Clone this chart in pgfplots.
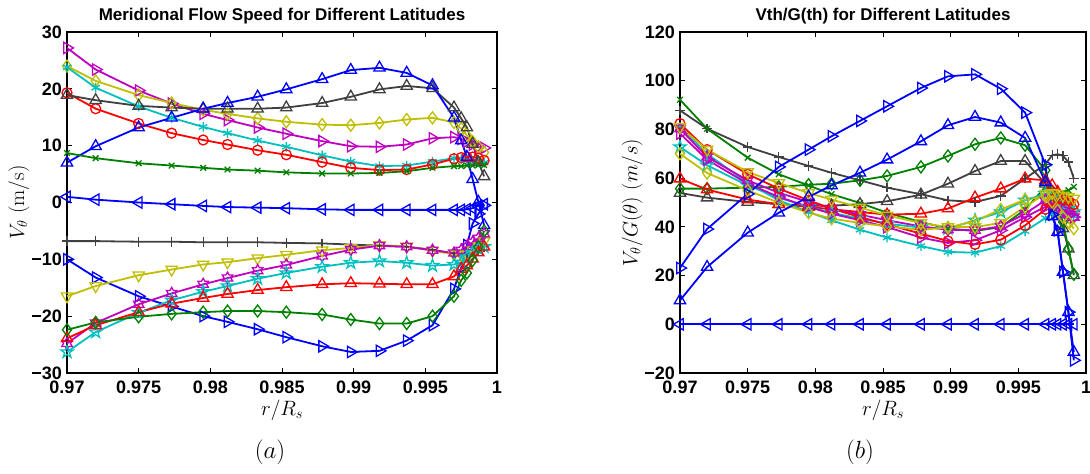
\documentclass[border=0pt]{standalone}
\usepackage{pgfplots}
\pgfplotsset{compat=1.18}
\usepackage{pgfplotstable}
\usepackage{fontspec}
\newfontfamily\arial{Liberation Sans}

\definecolor{mblue}{rgb}{0,0,1}
\definecolor{mgreen}{rgb}{0,0.5,0}
\definecolor{mred}{rgb}{1,0,0}
\definecolor{mcyan}{rgb}{0,0.75,0.75}
\definecolor{mmag}{rgb}{0.75,0,0.75}
\definecolor{myel}{rgb}{0.75,0.75,0}
\definecolor{mgray}{rgb}{0.25,0.25,0.25}

\pgfdeclareplotmark{pentagram}{%
 \pgfpathmoveto{\pgfpointpolar{90}{\pgfplotmarksize}}%
 \pgfpathlineto{\pgfpointpolar{126}{0.382\pgfplotmarksize}}%
 \pgfpathlineto{\pgfpointpolar{162}{\pgfplotmarksize}}%
 \pgfpathlineto{\pgfpointpolar{198}{0.382\pgfplotmarksize}}%
 \pgfpathlineto{\pgfpointpolar{234}{\pgfplotmarksize}}%
 \pgfpathlineto{\pgfpointpolar{270}{0.382\pgfplotmarksize}}%
 \pgfpathlineto{\pgfpointpolar{306}{\pgfplotmarksize}}%
 \pgfpathlineto{\pgfpointpolar{342}{0.382\pgfplotmarksize}}%
 \pgfpathlineto{\pgfpointpolar{18}{\pgfplotmarksize}}%
 \pgfpathlineto{\pgfpointpolar{54}{0.382\pgfplotmarksize}}%
 \pgfpathclose\pgfusepathqstroke}
\pgfdeclareplotmark{hexagram}{%
 \pgfpathmoveto{\pgfpointpolar{90}{\pgfplotmarksize}}%
 \pgfpathlineto{\pgfpointpolar{120}{0.577\pgfplotmarksize}}%
 \pgfpathlineto{\pgfpointpolar{150}{\pgfplotmarksize}}%
 \pgfpathlineto{\pgfpointpolar{180}{0.577\pgfplotmarksize}}%
 \pgfpathlineto{\pgfpointpolar{210}{\pgfplotmarksize}}%
 \pgfpathlineto{\pgfpointpolar{240}{0.577\pgfplotmarksize}}%
 \pgfpathlineto{\pgfpointpolar{270}{\pgfplotmarksize}}%
 \pgfpathlineto{\pgfpointpolar{300}{0.577\pgfplotmarksize}}%
 \pgfpathlineto{\pgfpointpolar{330}{\pgfplotmarksize}}%
 \pgfpathlineto{\pgfpointpolar{0}{0.577\pgfplotmarksize}}%
 \pgfpathlineto{\pgfpointpolar{30}{\pgfplotmarksize}}%
 \pgfpathlineto{\pgfpointpolar{60}{0.577\pgfplotmarksize}}%
 \pgfpathclose\pgfusepathqstroke}

% each row = one series; transposed below
\pgfplotstableread{
name c1 c2 c3 c4 c5 c6 c7 c8 c9 c10 c11 c12 c13 c14 c15 c16 c17 c18 c19
x 0.9700 0.9720 0.9750 0.9773 0.9795 0.9812 0.9833 0.9853 0.9878 0.9898 0.9918 0.9937 0.9955 0.9970 0.9975 0.9979 0.9983 0.9987 0.9991
a1 27.2 23.4 19.7 17.4 15.6 14.5 13.2 12.1 10.8 9.9 9.8 10.2 11.3 11.5 11.2 10.7 10.2 9.8 9.6
a2 24.0 21.4 18.9 17.5 16.3 15.6 14.8 14.2 13.7 13.6 14.0 14.6 14.9 14.1 13.0 11.8 10.7 9.8 8.8
a3 23.8 20.2 16.9 14.9 13.3 12.2 10.9 9.8 8.3 7.2 6.4 6.5 7.2 7.8 7.7 7.5 7.3 7.1 7.0
a4 19.3 16.5 13.9 12.2 11.0 10.2 9.2 8.4 7.1 6.1 5.7 5.8 6.7 7.7 7.9 8.0 8.0 7.8 7.4
a5 18.9 18.0 17.0 16.7 16.5 16.5 16.5 16.7 17.5 18.6 19.9 20.5 20.1 16.7 14.8 13.2 10.3 7.1 4.6
a6 7.0 9.9 13.2 14.9 16.5 17.5 18.6 19.9 21.7 23.3 23.7 22.8 20.6 14.9 10.9 8.0 4.1 0.1 -4.0
a7 8.7 7.8 6.9 6.5 6.1 5.8 5.6 5.3 5.1 5.1 5.2 5.5 6.1 6.4 6.4 6.5 6.5 6.6 6.6
a8 1.0 0.5 0.0 -0.3 -0.6 -0.8 -0.9 -1.0 -1.2 -1.3 -1.3 -1.3 -1.3 -1.3 -1.3 -1.2 -1.0 -0.6 -0.3
a9 -6.8 -6.8 -6.9 -6.9 -7.0 -7.0 -7.0 -7.1 -7.2 -7.4 -7.6 -7.8 -8.3 -9.0 -9.0 -9.0 -8.8 -8.4 -7.8
a10 -10.0 -13.2 -16.5 -18.3 -20.0 -21.0 -22.3 -23.7 -25.3 -26.3 -26.1 -24.3 -21.6 -15.2 -11.5 -7.5 -3.7 -2.0 -0.5
a11 -16.5 -14.7 -12.8 -11.8 -10.9 -10.5 -9.8 -9.2 -8.4 -8.0 -7.5 -7.7 -8.5 -9.1 -9.2 -9.0 -8.4 -7.7 -6.8
a12 -24.8 -21.2 -17.9 -16.0 -14.4 -13.3 -12.0 -11.0 -9.4 -8.3 -7.6 -7.8 -8.4 -8.9 -8.4 -7.8 -7.0 -6.3 -5.5
a13 -26.3 -22.8 -19.4 -17.2 -15.7 -14.7 -13.4 -12.4 -11.3 -10.6 -10.3 -10.6 -11.1 -10.9 -10.5 -9.6 -8.8 -8.2 -7.8
a14 -23.9 -21.6 -19.3 -17.8 -16.8 -16.1 -15.4 -14.9 -14.4 -14.2 -14.3 -14.4 -14.4 -13.0 -11.7 -11.1 -9.9 -8.8 -7.8
a15 -22.4 -21.1 -20.1 -19.6 -19.3 -19.1 -19.1 -19.3 -19.7 -20.6 -21.3 -21.3 -20.0 -16.5 -13.7 -12.4 -10.2 -7.8 -5.0
}\rawA
\pgfplotstabletranspose[colnames from=name]\tA\rawA

\pgfplotstableread{
name c1 c2 c3 c4 c5 c6 c7 c8 c9 c10 c11 c12 c13 c14 c15 c16 c17 c18 c19
x 0.9700 0.9720 0.9750 0.9773 0.9795 0.9812 0.9833 0.9853 0.9878 0.9898 0.9918 0.9937 0.9955 0.9970 0.9975 0.9979 0.9983 0.9987 0.9991
b1 23.1 39.1 53.5 64.6 71.7 77.2 83.5 89.5 97.0 101.8 102.6 96.7 86.9 65.5 45.0 38.6 21.5 5.0 -14.8
b2 9.8 23.5 37.6 45.8 52.3 57.0 62.2 67.6 75.1 81.7 85.1 82.8 76.5 58.4 44.3 37.9 21.5 5.0 -11.4
b3 55.7 55.7 56.1 56.4 57.3 57.7 59.1 60.9 64.6 69.1 73.9 76.5 73.5 63.2 53.6 48.2 42.0 31.0 20.5
b4 53.9 52.0 50.2 49.3 48.7 48.7 49.3 50.5 53.2 57.7 62.9 67.0 67.0 57.7 52.3 45.4 39.3 31.0 20.1
b5 87.8 80.3 72.8 68.7 65.0 62.2 59.1 56.1 53.4 50.9 50.2 52.7 59.8 65.7 69.4 69.8 69.2 66.6 59.8
b6 92.2 80.3 68.4 61.6 57.0 53.4 49.8 45.8 42.0 39.3 38.3 39.9 47.1 56.4 52.0 52.5 54.0 55.0 56.4
b7 82.4 71.7 61.6 55.7 50.9 47.5 44.0 41.0 37.2 34.2 32.8 34.7 40.6 47.2 50.9 51.6 51.2 50.9 49.2
b8 59.8 55.3 51.2 49.3 48.2 47.2 46.1 45.0 45.4 47.5 52.0 55.7 59.8 59.1 57.0 54.3 50.9 48.8 47.5
b9 78.3 67.6 57.7 52.3 48.2 45.4 42.7 39.9 35.6 33.4 34.5 38.6 44.0 48.2 48.2 46.8 45.4 44.7 44.0
b10 80.3 68.7 59.1 54.0 50.2 47.5 45.0 42.7 40.2 38.8 38.6 40.2 45.4 50.9 50.2 48.2 46.8 45.4 44.0
b11 81.0 70.0 58.0 50.9 46.1 42.7 38.8 35.6 32.1 29.7 29.4 32.1 38.2 43.6 45.4 45.4 45.4 44.7 44.3
b12 72.8 65.3 57.0 52.0 48.2 45.8 43.4 41.3 39.7 39.3 42.7 46.1 50.9 53.6 52.9 50.9 48.8 47.5 46.1
b13 70.0 62.1 55.0 49.9 45.8 43.4 41.6 40.2 38.8 39.7 42.4 47.1 51.2 52.5 50.2 46.8 44.0 42.0 39.3
b14 81.0 71.7 62.5 58.0 53.9 51.2 47.9 44.7 41.6 39.9 39.9 41.6 48.2 53.6 53.9 53.6 52.9 52.3 51.6
b15 0 0 0 0 0 0 0 0 0 0 0 0 0 0 0 0 0 0 0
}\rawB
\pgfplotstabletranspose[colnames from=name]\tB\rawB

\pgfplotsset{
  ml/.style={line width=1.8pt, color=#1},
  mk/.style={mark options={solid, line width=1.3pt, #1}},
  frame/.style={
    scale only axis, clip=false,
    xmin=0.97, xmax=1,
    xtick={0.97,0.975,0.98,0.985,0.99,0.995,1},
    xticklabels={0.97,0.975,0.98,0.985,0.99,0.995,1},
    scaled x ticks=false,
    tick align=inside,
    major tick length=5pt,
    major tick style={line width=0.9pt, black},
    axis line style={line width=1.2pt},
    tick label style={font=\arial\bfseries\fontsize{18}{18}\selectfont, inner sep=0pt},
    xticklabel style={yshift=-8pt},
    yticklabel style={xshift=-5pt},
    title style={font=\arial\bfseries\fontsize{17}{19}\selectfont, at={(0.5,1)}, anchor=base, yshift=5pt},
    label style={font=\fontsize{21}{23}\selectfont},
    xlabel style={at={(axis description cs:0.5,0)}, anchor=base, yshift=-42pt},
  },
}

\begin{document}
\begin{tikzpicture}[x=1pt,y=1pt]
\useasboundingbox (0,0) rectangle (1090,474);

\begin{axis}[frame,
  at={(67pt,101pt)}, anchor=south west, width=430pt, height=341pt,
  ymin=-30, ymax=30,
  ytick={-30,-20,-10,0,10,20,30},
  yticklabels={−30,−20,−10,0,10,20,30},
  title={Meridional Flow Speed for Different Latitudes},
  xlabel={$r/R_s$},
  ylabel={$V_{\theta}$ (m/s)},
  ylabel style={at={(axis description cs:-0.112,0.5)}, anchor=center},
]
\addplot[ml=mmag, mark=triangle, mark size=6.5pt, mk={rotate=-90}] table[x=x,y=a1]{\tA};
\addplot[ml=myel, mark=diamond, mark size=6pt, mk] table[x=x,y=a2]{\tA};
\addplot[ml=mcyan, mark=asterisk, mark size=4.8pt, mk] table[x=x,y=a3]{\tA};
\addplot[ml=mred, mark=o, mark size=5pt, mk] table[x=x,y=a4]{\tA};
\addplot[ml=mgray, mark=triangle, mark size=6.5pt, mk] table[x=x,y=a5]{\tA};
\addplot[ml=mblue, mark=triangle, mark size=6.5pt, mk] table[x=x,y=a6]{\tA};
\addplot[ml=mgreen, mark=x, mark size=4pt, mk] table[x=x,y=a7]{\tA};
\addplot[ml=mblue, mark=triangle, mark size=6.5pt, mk={rotate=90}] table[x=x,y=a8]{\tA};
\addplot[ml=mgray, mark=+, mark size=4.8pt, mk] table[x=x,y=a9]{\tA};
\addplot[ml=mblue, mark=triangle, mark size=6.5pt, mk={rotate=-90}] table[x=x,y=a10]{\tA};
\addplot[ml=myel, mark=triangle, mark size=6.5pt, mk={rotate=180}] table[x=x,y=a11]{\tA};
\addplot[ml=mmag, mark=hexagram, mark size=6pt, mk] table[x=x,y=a12]{\tA};
\addplot[ml=mcyan, mark=pentagram, mark size=6.5pt, mk] table[x=x,y=a13]{\tA};
\addplot[ml=mred, mark=triangle, mark size=6.5pt, mk] table[x=x,y=a14]{\tA};
\addplot[ml=mgreen, mark=diamond, mark size=6pt, mk] table[x=x,y=a15]{\tA};
\end{axis}

\begin{axis}[frame,
  at={(680pt,101pt)}, anchor=south west, width=406pt, height=341pt,
  ymin=-20, ymax=120,
  ytick={-20,0,20,40,60,80,100,120},
  yticklabels={−20,0,20,40,60,80,100,120},
  title={Vth/G(th) for Different Latitudes},
  xlabel={$r/R_s$},
  ylabel={$V_\theta/G(\theta)\ (m/s)$},
  ylabel style={at={(axis description cs:-0.118,0.5)}, anchor=center},
]
\addplot[ml=mblue, mark=triangle, mark size=6.5pt, mk={rotate=90}] table[x=x,y=b15]{\tB};
\addplot[ml=mgray, mark=+, mark size=4.8pt, mk] table[x=x,y=b5]{\tB};
\addplot[ml=mgreen, mark=x, mark size=4pt, mk] table[x=x,y=b6]{\tB};
\addplot[ml=mgray, mark=triangle, mark size=6.5pt, mk] table[x=x,y=b4]{\tB};
\addplot[ml=mgreen, mark=diamond, mark size=6pt, mk] table[x=x,y=b3]{\tB};
\addplot[ml=mred, mark=triangle, mark size=6.5pt, mk] table[x=x,y=b8]{\tB};
\addplot[ml=mcyan, mark=asterisk, mark size=4.8pt, mk] table[x=x,y=b11]{\tB};
\addplot[ml=mcyan, mark=pentagram, mark size=6.5pt, mk] table[x=x,y=b12]{\tB};
\addplot[ml=mmag, mark=hexagram, mark size=6pt, mk] table[x=x,y=b10]{\tB};
\addplot[ml=mmag, mark=triangle, mark size=6.5pt, mk={rotate=-90}] table[x=x,y=b9]{\tB};
\addplot[ml=mred, mark=o, mark size=5pt, mk] table[x=x,y=b7]{\tB};
\addplot[ml=myel, mark=triangle, mark size=6.5pt, mk={rotate=180}] table[x=x,y=b14]{\tB};
\addplot[ml=myel, mark=diamond, mark size=6pt, mk] table[x=x,y=b13]{\tB};
\addplot[ml=mblue, mark=triangle, mark size=6.5pt, mk] table[x=x,y=b2]{\tB};
\addplot[ml=mblue, mark=triangle, mark size=6.5pt, mk={rotate=-90}] table[x=x,y=b1]{\tB};
\end{axis}

\node[anchor=base, font=\fontsize{30}{32}\selectfont] at (270,15.5) {$(a)$};
\node[anchor=base, font=\fontsize{30}{32}\selectfont] at (860,15.5) {$(b)$};
\end{tikzpicture}
\end{document}
